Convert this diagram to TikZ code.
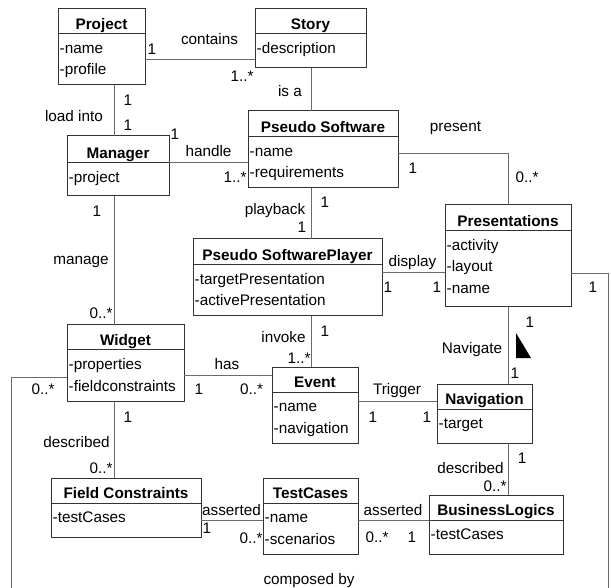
\documentclass[tikz,border=0pt]{standalone}
\usepackage{fontspec}
\setmainfont{Liberation Sans}
\definecolor{boxcol}{gray}{0.2}
\definecolor{linecol}{gray}{0.42}
\tikzset{
  classbox/.style={draw=boxcol, line width=1pt, inner sep=0pt, outer sep=0pt, fill=white},
  divider/.style={draw=boxcol, line width=1pt},
  classtitle/.style={font=\bfseries\fontsize{15.3}{18}\selectfont, inner sep=0pt, anchor=base},
  attr/.style={font=\fontsize{15.3}{18}\selectfont, inner sep=0pt, anchor=base west},
  lbl/.style={font=\fontsize{15.3}{18}\selectfont, inner sep=0pt, anchor=base},
  assoc/.style={draw=linecol, line width=1pt},
}
% \umlclass{name}{left}{top}{right}{bottom}{divider}{title}{attributes}
\newcommand\umlclass[8]{%
  \node[classbox, anchor=north west, minimum width={(#4-#2)*1pt}, minimum height={(#5-#3)*1pt}] (#1) at (#2,#3) {};
  \draw[divider] (#2,#6) -- (#4,#6);
  \node[classtitle] (#1-title) at ({(#2+#4)/2},#6-4.8) {#7};
  \foreach \a [count=\i] in {#8} {\node[attr] (#1-attr\i) at (#2+1.5,{#6+19.5+(\i-1)*21.5}) {\a};}
}
\begin{document}
\begin{tikzpicture}[x=1pt, y=-1pt]
\useasboundingbox (0,0) rectangle (611,588);
\clip (0,0) rectangle (611,588);

% classes
\umlclass{project}{58}{9}{145}{85}{34}{Project}{-name,-profile}
\umlclass{story}{255}{9}{366}{68}{34}{Story}{-description}
\umlclass{manager}{67}{136}{169}{196}{163}{Manager}{-project}
\umlclass{pseudo}{248}{111}{398}{188}{137}{Pseudo Software}{-name,-requirements}
\umlclass{player}{193}{239}{382}{316}{265}{Pseudo SoftwarePlayer}{-targetPresentation,-activePresentation}
\umlclass{presentations}{445}{205}{571}{307}{231}{Presentations}{-activity,-layout,-name}
\umlclass{widget}{67}{325}{184}{401}{350}{Widget}{-properties,-fieldconstraints}
\umlclass{event}{272}{367}{358}{443}{392}{Event}{-name,-navigation}
\umlclass{navigation}{437}{384}{532}{443}{409}{Navigation}{-target}
\umlclass{fieldc}{51}{478}{201}{537}{503}{Field Constraints}{-testCases}
\umlclass{testcases}{263}{478}{358}{554}{503}{TestCases}{-name,-scenarios}
\umlclass{business}{429}{495}{563}{554}{520}{BusinessLogics}{-testCases}

% associations
\draw[assoc] (project.east |- 0,60) -- (story.west |- 0,60);
\draw[assoc] (story.south -| 311,0) -- (pseudo.north -| 311,0);
\draw[assoc] (project.south -| 114,0) -- (manager.north -| 114,0);
\draw[assoc] (manager.east |- 0,163) -- (pseudo.west |- 0,163);
\draw[assoc] (pseudo.east |- 0,154) -| (presentations.north);
\draw[assoc] (pseudo.south -| 311,0) -- (player.north -| 311,0);
\draw[assoc] (manager.south -| 114,0) -- (widget.north -| 114,0);
\draw[assoc] (player.east |- 0,273) -- (presentations.west |- 0,273);
\draw[assoc] (player.south -| 311,0) -- (event.north -| 311,0);
\draw[assoc] (widget.east |- 0,375) -- (event.west |- 0,375);
\draw[assoc] (presentations.south) -- (navigation.north -| presentations.south);
\draw[assoc] (event.east |- 0,401) -- (navigation.west |- 0,401);
\draw[assoc] (widget.south -| 114,0) -- (fieldc.north -| 114,0);
\draw[assoc] (fieldc.east |- 0,520) -- (testcases.west |- 0,520);
\draw[assoc] (testcases.east |- 0,520) -- (business.west |- 0,520);
\draw[assoc] (navigation.south -| 508,0) -- (business.north -| 508,0);
\draw[assoc] (widget.west |- 0,377.5) -- (11.5,377.5) -- (11.5,600) -- (608.5,600)
  -- (608.5,274) -- (presentations.east |- 0,274);

% navigability marker
\fill[black] (516,333) -- (516,358) -- (531,358) -- cycle;

% association names and multiplicities
\node[lbl] (l1)  at (209.5,45) {contains};
\node[lbl] (l2)  at (152,55) {1};
\node[lbl] (l3)  at (242,82) {1..*};
\node[lbl] (l4)  at (290,97) {is a};
\node[lbl] (l5)  at (128,106) {1};
\node[lbl] (l6)  at (128,131) {1};
\node[lbl] (l7)  at (74,122) {load into};
\node[lbl] (l8)  at (175,140) {1};
\node[lbl] (l9)  at (208.5,157) {handle};
\node[lbl] (l10) at (235,183) {1..*};
\node[lbl] (l11) at (455.5,132) {present};
\node[lbl] (l12) at (413,174) {1};
\node[lbl] (l13) at (527,183) {0..*};
\node[lbl] (l14) at (325,208) {1};
\node[lbl] (l15) at (275,215) {playback};
\node[lbl] (l16) at (302,233) {1};
\node[lbl] (l17) at (97,217) {1};
\node[lbl] (l18) at (81,265) {manage};
\node[lbl] (l19) at (101,319) {0..*};
\node[lbl] (l20) at (412.5,267) {display};
\node[lbl] (l21) at (388,293) {1};
\node[lbl] (l22) at (437,293) {1};
\node[lbl] (l23) at (593,293) {1};
\node[lbl] (l24) at (530,328) {1};
\node[lbl] (l25) at (472,353) {Navigate};
\node[lbl] (l26) at (515,378) {1};
\node[lbl] (l27) at (325,337) {1};
\node[lbl] (l28) at (283.5,343) {invoke};
\node[lbl] (l29) at (299,363) {1..*};
\node[lbl] (l30) at (227,370) {has};
\node[lbl] (l31) at (199,394) {1};
\node[lbl] (l32) at (251.5,394) {0..*};
\node[lbl] (l33) at (43,394) {0..*};
\node[lbl] (l34) at (397,395) {Trigger};
\node[lbl] (l35) at (373,422) {1};
\node[lbl] (l36) at (427,422) {1};
\node[lbl] (l37) at (128,422) {1};
\node[lbl] (l38) at (76.5,447) {described};
\node[lbl] (l39) at (101,473) {0..*};
\node[lbl] (l40) at (231.5,515) {asserted};
\node[lbl] (l41) at (207,533) {1};
\node[lbl] (l42) at (251,543) {0..*};
\node[lbl] (l43) at (393,515) {asserted};
\node[lbl] (l44) at (377,542) {0..*};
\node[lbl] (l45) at (412,542) {1};
\node[lbl] (l46) at (522,463) {1};
\node[lbl] (l47) at (470.5,473) {described};
\node[lbl] (l48) at (495,491) {0..*};
\node[lbl] (l49) at (309,584) {composed by};
\end{tikzpicture}
\end{document}
